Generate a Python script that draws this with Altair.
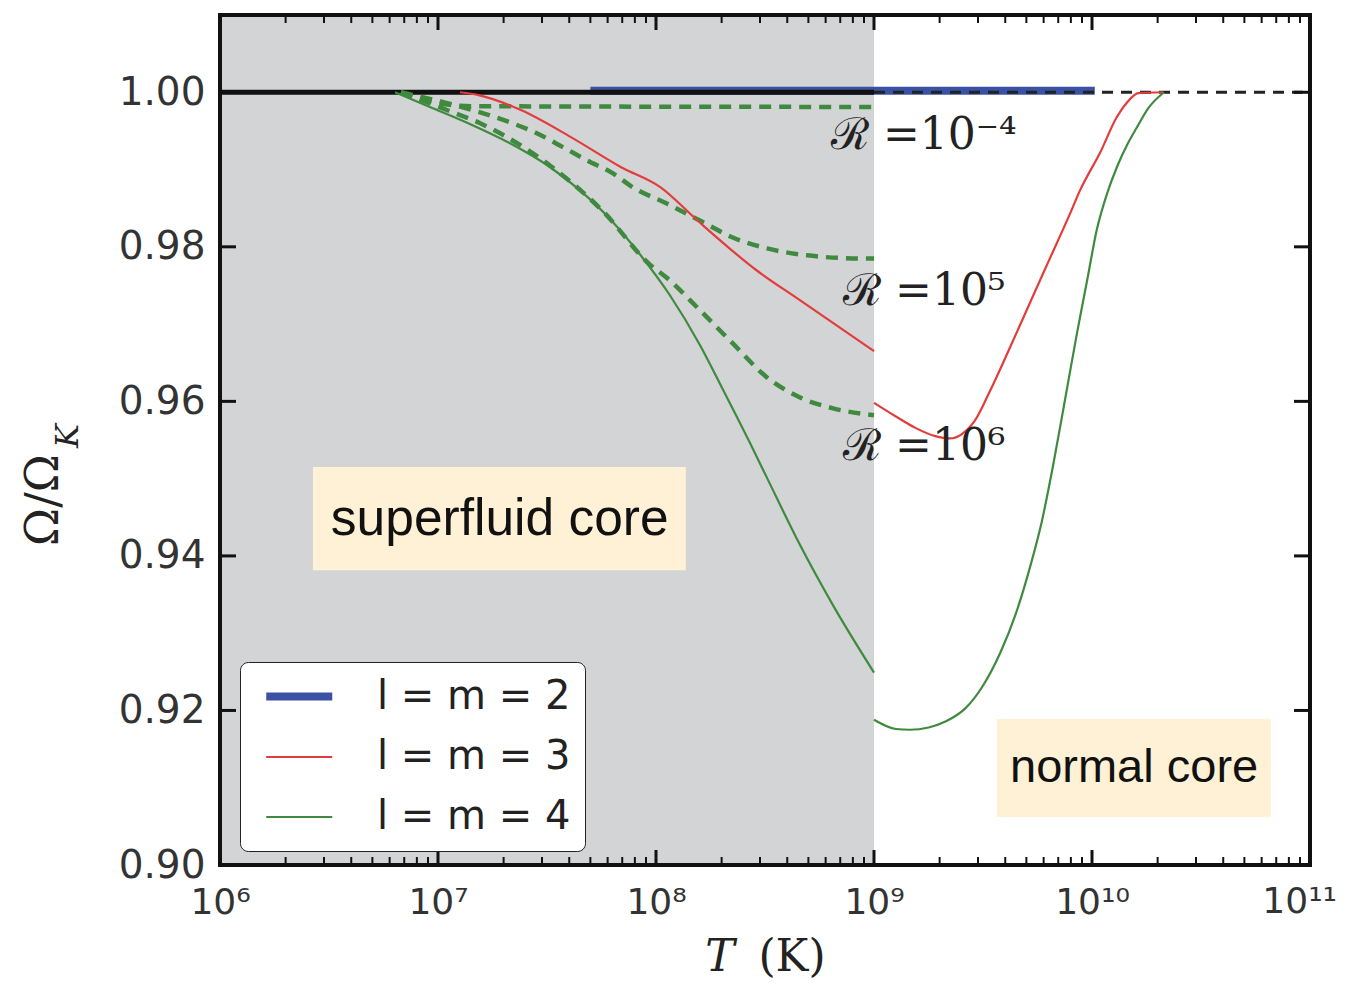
import altair as alt
import pandas as pd

W, H = 1090, 850

# ---------------- data ----------------
modes = ["l = m = 2", "l = m = 3", "l = m = 4"]
mode_colors = ["#3a52a4", "#e23d3d", "#3f8a3f"]
mode_widths = [8, 2.2, 2.2]

blue_T = [5.0e7, 1.03e10]
blue_v = [1.0002, 1.0002]

red_sf_T = [1.26e7, 1.55e7, 2.40e7, 4.07e7, 6.92e7, 1.05e8, 1.55e8, 2.88e8, 4.57e8, 1.0e9]
red_sf_v = [1.0000, 0.9996, 0.9977, 0.9942, 0.9903, 0.9877, 0.9834, 0.9770, 0.9731, 0.9665]
red_nc_T = [1.0e9, 1.25e9, 1.54e9, 1.91e9, 2.23e9, 2.54e9, 2.90e9, 3.40e9, 4.21e9, 5.20e9,
            6.41e9, 7.93e9, 8.81e9, 1.09e10, 1.30e10, 1.45e10, 1.63e10, 2.12e10]
red_nc_v = [0.9598, 0.9581, 0.9566, 0.9555, 0.9552, 0.9558, 0.9575, 0.9613, 0.9670, 0.9728,
            0.9785, 0.9843, 0.9873, 0.9922, 0.9968, 0.9987, 0.9999, 1.0000]

green_sf_T = [6.35e6, 9.18e6, 1.40e7, 2.14e7, 3.27e7, 4.48e7, 6.15e7, 8.45e7, 1.16e8,
              1.59e8, 2.03e8, 2.70e8, 3.23e8, 4.58e8, 6.49e8, 1.0e9]
green_sf_v = [1.0000, 0.9981, 0.9959, 0.9934, 0.9903, 0.9873, 0.9836, 0.9790, 0.9737,
              0.9673, 0.9615, 0.9546, 0.9501, 0.9414, 0.9336, 0.9249]
green_nc_T = [1.0e9, 1.26e9, 1.46e9, 1.78e9, 2.14e9, 2.63e9, 3.16e9, 3.80e9, 4.47e9,
              5.25e9, 5.89e9, 6.61e9, 7.52e9, 8.53e9, 9.55e9, 1.05e10, 1.17e10,
              1.30e10, 1.45e10, 1.61e10, 1.82e10, 2.14e10]
green_nc_v = [0.9188, 0.9176, 0.9175, 0.9178, 0.9186, 0.9203, 0.9232, 0.9275, 0.9325,
              0.9390, 0.9445, 0.9515, 0.9602, 0.9688, 0.9760, 0.9821, 0.9868,
              0.9903, 0.9932, 0.9955, 0.9980, 1.0000]

r4_T = [6.76e6, 9.3e6, 1.41e7, 1.0e9]
r4_v = [1.0000, 0.9988, 0.9982, 0.9981]
r5_T = [6.76e6, 1.10e7, 1.56e7, 2.14e7, 2.84e7, 3.74e7, 4.82e7, 6.35e7, 7.83e7,
        1.12e8, 1.59e8, 2.25e8, 3.23e8, 4.93e8, 8.63e8, 1.0e9]
r5_v = [1.0000, 0.9986, 0.9974, 0.9961, 0.9947, 0.9929, 0.9912, 0.9895, 0.9877,
        0.9856, 0.9834, 0.9812, 0.9798, 0.9789, 0.9785, 0.9785]
r6_T = [6.76e6, 1.17e7, 1.56e7, 2.07e7, 3.27e7, 5.71e7, 9.38e7, 1.12e8, 1.59e8,
        2.25e8, 3.23e8, 4.58e8, 6.49e8, 1.0e9]
r6_v = [1.0000, 0.9974, 0.9960, 0.9942, 0.9905, 0.9846, 0.9777, 0.9760, 0.9718,
        0.9675, 0.9631, 0.9605, 0.9591, 0.9582]

black_solid_T = [1e6, 1e9]
black_dash_T = [1e9, 1e11]
black_v = [1.0, 1.0]

superfluid_span = [1e6, 1e9]

x_major = [1e6, 1e7, 1e8, 1e9, 1e10, 1e11]
x_labels = ["10⁶", "10⁷", "10⁸", "10⁹", "10¹⁰", "10¹¹"]
x_minor = [m * d for d in [1e6, 1e7, 1e8, 1e9, 1e10] for m in range(2, 10)]
y_major = [0.90, 0.92, 0.94, 0.96, 0.98, 1.00]

r_labels = ["ℛ =10⁻⁴", "ℛ =10⁵", "ℛ =10⁶"]
r_label_T = [6.35e8, 7.21e8, 7.21e8]
r_label_v = [0.9944, 0.9741, 0.9541]

box_T1 = [2.67e6, 3.66e9]
box_T2 = [1.37e8, 6.62e10]
box_v1 = [0.93816, 0.90621]
box_v2 = [0.95149, 0.91889]
sf_text, sf_T, sf_v = "superfluid core", 1.92e7, 0.9446
nc_text, nc_T, nc_v = "normal core", 1.56e10, 0.9126

# ---------------- scales / axes ----------------
xscale = alt.Scale(type="log", domain=[1e6, 1e11], nice=False)
yscale = alt.Scale(domain=[0.90, 1.01], nice=False, zero=False)

# last decade label is drawn separately (kept inside the page edge)
label_expr = " : ".join(
    f"datum.value == {v:g} ? '{l}'" for v, l in zip(x_major[:-1], x_labels[:-1])
) + " : ''"

xaxis = alt.Axis(values=x_major, labelExpr=label_expr, ticks=False, tickSize=0, domain=False,
                 grid=False, labelFontSize=36, labelFont="DejaVu Sans", labelColor="#333333",
                 labelPadding=20, labelFlush=False, title=None)
yaxis = alt.Axis(values=y_major, format=".2f", ticks=False, tickSize=0, domain=False,
                 grid=False, labelFontSize=39, labelFont="DejaVu Sans", labelColor="#333333",
                 labelPadding=15, title=None)


def X(f):
    return alt.X(f, scale=xscale, axis=xaxis)


def Y(f):
    return alt.Y(f, scale=yscale, axis=yaxis)


# ---------------- build tables ----------------
def series(Ts, vs, **kw):
    return [dict(T=t, v=v, **kw) for t, v in zip(Ts, vs)]


main_rows = (series(blue_T, blue_v, mode=modes[0], seg="b")
             + series(red_sf_T, red_sf_v, mode=modes[1], seg="r1")
             + series(red_nc_T, red_nc_v, mode=modes[1], seg="r2")
             + series(green_sf_T, green_sf_v, mode=modes[2], seg="g1")
             + series(green_nc_T, green_nc_v, mode=modes[2], seg="g2"))
main_df = pd.DataFrame(main_rows)
blue_df = main_df[main_df.seg == "b"]
rest_df = main_df[main_df.seg != "b"]

dash_df = pd.DataFrame(series(r4_T, r4_v, seg="r4") + series(r5_T, r5_v, seg="r5")
                       + series(r6_T, r6_v, seg="r6"))

legend_kw = dict(orient="none", legendX=20, legendY=647, title=None,
                 symbolType="M-0.5,0H3.5", symbolSize=1089,
                 labelFontSize=40, labelFont="DejaVu Sans", labelColor="#222222",
                 labelLimit=400, fillColor="white", strokeColor="#222222", padding=14,
                 cornerRadius=8, labelOffset=82, rowPadding=20)

color_enc = alt.Color("mode:N", scale=alt.Scale(domain=modes, range=mode_colors),
                      legend=alt.Legend(**legend_kw))
width_enc = alt.StrokeWidth("mode:N",
                            scale=alt.Scale(type="ordinal", domain=modes, range=mode_widths),
                            legend=alt.Legend(**legend_kw))

# ---------------- layers ----------------
gray = alt.Chart(pd.DataFrame({"T": [superfluid_span[0]], "T2": [superfluid_span[1]]})).mark_rect(
    color="#d3d4d6").encode(x=X("T:Q"), x2="T2:Q")

boxes_df = pd.DataFrame({"T": box_T1, "T2": box_T2, "v": box_v1, "v2": box_v2})
boxes = alt.Chart(boxes_df).mark_rect(color="#fff1d6").encode(
    x=X("T:Q"), x2="T2:Q", y=Y("v:Q"), y2="v2:Q")
sf_txt = alt.Chart(pd.DataFrame({"T": [sf_T], "v": [sf_v], "t": [sf_text]})).mark_text(
    font="Liberation Sans", fontSize=51.5, color="#111111", baseline="middle", align="center").encode(
    x=X("T:Q"), y=Y("v:Q"), text="t:N")
nc_txt = alt.Chart(pd.DataFrame({"T": [nc_T], "v": [nc_v], "t": [nc_text]})).mark_text(
    font="Liberation Sans", fontSize=47, color="#111111", baseline="middle", align="center").encode(
    x=X("T:Q"), y=Y("v:Q"), text="t:N")

blue = alt.Chart(blue_df).mark_line(strokeCap="butt").encode(
    x=X("T:Q"), y=Y("v:Q"), color=color_enc, strokeWidth=width_enc, detail="seg:N")

black_solid = alt.Chart(pd.DataFrame({"T": black_solid_T, "v": black_v})).mark_line(
    color="#111111", strokeWidth=5).encode(x=X("T:Q"), y=Y("v:Q"))
black_dash = alt.Chart(pd.DataFrame({"T": black_dash_T, "v": black_v})).mark_line(
    color="#222222", strokeWidth=3, strokeDash=[11, 8]).encode(x=X("T:Q"), y=Y("v:Q"))

dashed = alt.Chart(dash_df).mark_line(color="#3f8a3f", strokeWidth=4.5, strokeDash=[12, 8],
                                      interpolate="monotone").encode(
    x=X("T:Q"), y=Y("v:Q"), detail="seg:N")

lines = alt.Chart(rest_df).mark_line(interpolate="monotone").encode(
    x=X("T:Q"), y=Y("v:Q"), color=color_enc, strokeWidth=width_enc, detail="seg:N")

# inward ticks
xmaj_df = pd.DataFrame({"T": x_major})
xmin_df = pd.DataFrame({"T": x_minor})
ymaj_df = pd.DataFrame({"v": y_major})
ticks = [
    alt.Chart(xmaj_df).mark_rule(color="#111111", strokeWidth=3).encode(
        x=X("T:Q"), y=alt.value(H), y2=alt.value(H - 15)),
    alt.Chart(xmaj_df).mark_rule(color="#111111", strokeWidth=3).encode(
        x=X("T:Q"), y=alt.value(0), y2=alt.value(15)),
    alt.Chart(xmin_df).mark_rule(color="#111111", strokeWidth=2).encode(
        x=X("T:Q"), y=alt.value(H), y2=alt.value(H - 8)),
    alt.Chart(xmin_df).mark_rule(color="#111111", strokeWidth=2).encode(
        x=X("T:Q"), y=alt.value(0), y2=alt.value(8)),
    alt.Chart(ymaj_df).mark_rule(color="#111111", strokeWidth=3).encode(
        y=Y("v:Q"), x=alt.value(0), x2=alt.value(16)),
    alt.Chart(ymaj_df).mark_rule(color="#111111", strokeWidth=3).encode(
        y=Y("v:Q"), x=alt.value(W - 16), x2=alt.value(W)),
]

# last x tick label, right-aligned so it stays within the page
last_lbl = alt.Chart(pd.DataFrame({"T": [x_major[-1]], "t": [x_labels[-1]]})).mark_text(
    font="DejaVu Sans", fontSize=36, color="#333333", align="right", baseline="top", dx=27).encode(
    x=X("T:Q"), y=alt.value(H + 20), text="t:N")

# frame drawn on top
frame = alt.Chart(pd.DataFrame({"t": ["f"]})).mark_rect(
    fill=None, stroke="#111111", strokeWidth=4).encode(
    x=alt.value(0), x2=alt.value(W), y=alt.value(0), y2=alt.value(H))

rtext = alt.Chart(pd.DataFrame({"T": r_label_T, "v": r_label_v, "t": r_labels})).mark_text(
    font="DejaVu Serif", fontSize=44, color="#222222", align="left", baseline="middle").encode(
    x=X("T:Q"), y=Y("v:Q"), text="t:N")

one = pd.DataFrame({"t": ["x"]})
ytitle_main = alt.Chart(one).mark_text(text="Ω/Ω", font="DejaVu Serif", fontSize=46, angle=270,
                                       color="#222222", align="center", baseline="middle").encode(
    x=alt.value(-176), y=alt.value(485))
ytitle_sub = alt.Chart(one).mark_text(text="K", font="DejaVu Serif", fontStyle="italic", fontSize=32,
                                      angle=270, color="#222222", align="center",
                                      baseline="middle").encode(
    x=alt.value(-152), y=alt.value(421))
xtitle_T = alt.Chart(one).mark_text(text="T", font="DejaVu Serif", fontStyle="italic", fontSize=44,
                                    color="#222222", align="center", baseline="middle").encode(
    x=alt.value(500), y=alt.value(943))
xtitle_K = alt.Chart(one).mark_text(text="(K)", font="DejaVu Serif", fontSize=44,
                                    color="#222222", align="center", baseline="middle").encode(
    x=alt.value(572), y=alt.value(943))

chart = alt.layer(
    gray, boxes, sf_txt, nc_txt, blue, black_solid, black_dash, dashed, lines, *ticks, frame,
    last_lbl, rtext, ytitle_main, ytitle_sub, xtitle_T, xtitle_K
).properties(
    width=W, height=H,
    autosize=alt.AutoSizeParams(type="none"),
    padding={"left": 212, "top": 7, "right": 30, "bottom": 119},
).configure_view(stroke=None).configure(background="white")

chart.save("out.html", embed_options={"renderer": "svg", "actions": False})
